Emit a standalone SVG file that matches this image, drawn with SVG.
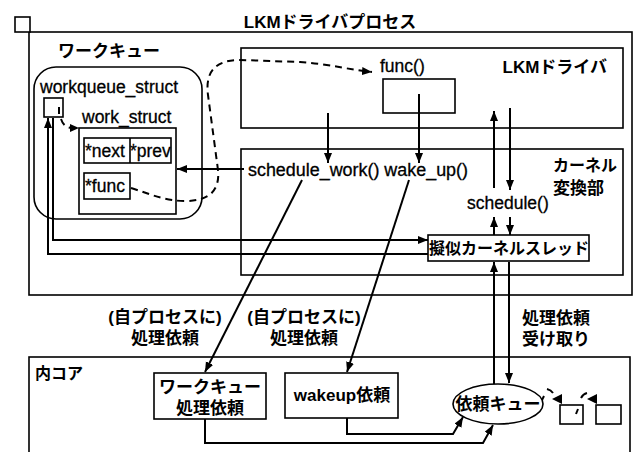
<svg xmlns="http://www.w3.org/2000/svg" width="637" height="452" viewBox="0 0 637 452">
<defs>
<style>
.bx{fill:#fff;stroke:#000;stroke-width:1.6}
.nf{fill:none;stroke:#000;stroke-width:1.6}
.ln{fill:none;stroke:#000;stroke-width:2}
.ds{fill:none;stroke:#000;stroke-width:2;stroke-dasharray:7 5}
.e{font-family:"Liberation Sans","Noto Sans CJK JP",sans-serif;font-size:17.5px;fill:#000;stroke:#000;stroke-width:0.3}
.j{font-family:"Liberation Sans","Noto Sans CJK JP",sans-serif;font-size:17px;font-weight:bold;fill:#000}
.m{text-anchor:middle}
</style>
<marker id="ah" markerUnits="userSpaceOnUse" markerWidth="11" markerHeight="9" refX="10" refY="4" orient="auto">
<path d="M0,0 L10,4 L0,8 z" fill="#000"/>
</marker>
</defs>
<rect width="637" height="452" fill="#fff"/>

<g id="process">
<rect class="nf" x="29" y="32" width="603" height="263"/>
<rect class="bx" x="15" y="17" width="15" height="15"/>
<text class="j m" x="330" y="28">LKMドライバプロセス</text>
</g>

<g id="workqueue">
<text class="j" x="58" y="57">ワークキュー</text>
<rect class="nf" x="34" y="67" width="168" height="152" rx="22"/>
</g>

<g id="workqueue_struct">
<text class="e" x="40" y="93">workqueue_struct</text>
<rect class="bx" x="44" y="98" width="19" height="19"/>
</g>

<g id="work_struct">
<text class="e" x="82" y="123">work_struct</text>
<rect class="bx" x="79" y="128" width="97" height="86"/>
<rect class="nf" x="84" y="138" width="87" height="25"/>
<line class="nf" x1="130" y1="138" x2="130" y2="163"/>
<text class="e" x="85" y="157">*next</text>
<text class="e" x="130" y="157">*prev</text>
<rect class="nf" x="84" y="173" width="46" height="26"/>
<text class="e" x="85" y="192">*func</text>
</g>

<g id="lkm_driver">
<rect class="nf" x="241" y="48" width="382" height="80"/>
<text class="j" x="607" y="73" text-anchor="end">LKMドライバ</text>
<text class="e" x="380" y="72">func()</text>
<rect class="nf" x="383" y="79" width="72" height="34"/>
</g>

<g id="kernel_conv">
<rect class="nf" x="241" y="149" width="382" height="126"/>
<text class="j" x="553" y="171" style="font-size:16px">カーネル</text>
<text class="j" x="553" y="194">変換部</text>
<text class="e" x="248" y="176" textLength="220" lengthAdjust="spacingAndGlyphs">schedule_work() wake_up()</text>
<text class="e" x="467" y="209">schedule()</text>
</g>

<g id="pseudo_thread">
<rect class="bx" x="428" y="235" width="161" height="26"/>
<text class="j m" x="509" y="254" style="font-size:16px">擬似カーネルスレッド</text>
</g>

<g id="inner_core">
<rect class="nf" x="29" y="357" width="601" height="120"/>
<text class="j" x="35" y="379" style="font-size:16px">内コア</text>
</g>

<g id="wq_request">
<rect class="bx" x="154" y="373" width="112" height="46"/>
<text class="j m" x="210" y="393">ワークキュー</text>
<text class="j m" x="210" y="414">処理依頼</text>
</g>

<g id="wakeup_request">
<rect class="bx" x="285" y="373" width="113" height="45"/>
<text class="j m" x="342" y="401">wakeup依頼</text>
</g>

<g id="request_queue">
<ellipse class="bx" cx="498" cy="404" rx="45" ry="20"/>
<text class="j m" x="498" y="410">依頼キュー</text>
</g>

<g id="queue_items">
<rect class="bx" x="560" y="405" width="23" height="19"/>
<rect class="bx" x="596" y="405" width="25" height="19"/>
</g>

<g id="labels">
<text class="j m" x="165" y="323">(自プロセスに)</text>
<text class="j m" x="165" y="344">処理依頼</text>
<text class="j m" x="304" y="323">(自プロセスに)</text>
<text class="j m" x="304" y="344">処理依頼</text>
<text class="j" x="522" y="324">処理依頼</text>
<text class="j" x="522" y="345">受け取り</text>
</g>

<g id="connectors">
<path class="ln" d="M59,107 L59,114"/>
<path class="ds" d="M61,119 Q64,128 72,128" />
<path d="M70,124 L79,128 L70,132 z" fill="#000"/>
<path class="ds" d="M131,188 C150,194 165,201 185,201 C210,201 220,190 218,170 L208,95 C205,72 215,60 240,60 L300,62 C330,64 350,70 372,72" marker-end="url(#ah)"/>
<line class="ln" x1="328" y1="113" x2="328" y2="163" marker-end="url(#ah)"/>
<line class="ln" x1="419" y1="94" x2="419" y2="163" marker-end="url(#ah)"/>
<line class="ln" x1="244" y1="169" x2="177" y2="169" marker-end="url(#ah)"/>
<line class="ln" x1="494" y1="188" x2="494" y2="111" marker-end="url(#ah)"/>
<line class="ln" x1="510" y1="108" x2="510" y2="190" marker-end="url(#ah)"/>
<line class="ln" x1="494" y1="235" x2="494" y2="217" marker-end="url(#ah)"/>
<line class="ln" x1="510" y1="217" x2="510" y2="235" marker-end="url(#ah)"/>
<line class="ln" x1="494" y1="384" x2="494" y2="262" marker-end="url(#ah)"/>
<line class="ln" x1="509" y1="262" x2="509" y2="383" marker-end="url(#ah)"/>
<path class="ln" d="M53,118 L53,240 L428,240" marker-end="url(#ah)"/>
<path class="ln" d="M428,254 L48,254 L48,118" marker-end="url(#ah)"/>
<line class="ln" x1="302" y1="180" x2="205" y2="372" marker-end="url(#ah)"/>
<line class="ln" x1="409" y1="180" x2="347" y2="372" marker-end="url(#ah)"/>
<path class="ln" d="M347,418 L347,434 L453,434 L463,417" marker-end="url(#ah)"/>
<path class="ln" d="M205,419 L205,443 L483,443 L493,425" marker-end="url(#ah)"/>
<path class="ln" d="M542,400 L544,396"/>
<path class="ln" d="M547,389 Q551,390 553,393"/>
<path d="M552,399 L562,394 L562,404 z" fill="#000"/>
<path class="ln" d="M576,414 L578,409"/>
<path class="ln" d="M581,398 Q583,394 587,393"/>
<path d="M587,399 L597,394 L597,404 z" fill="#000"/>
</g>
</svg>
